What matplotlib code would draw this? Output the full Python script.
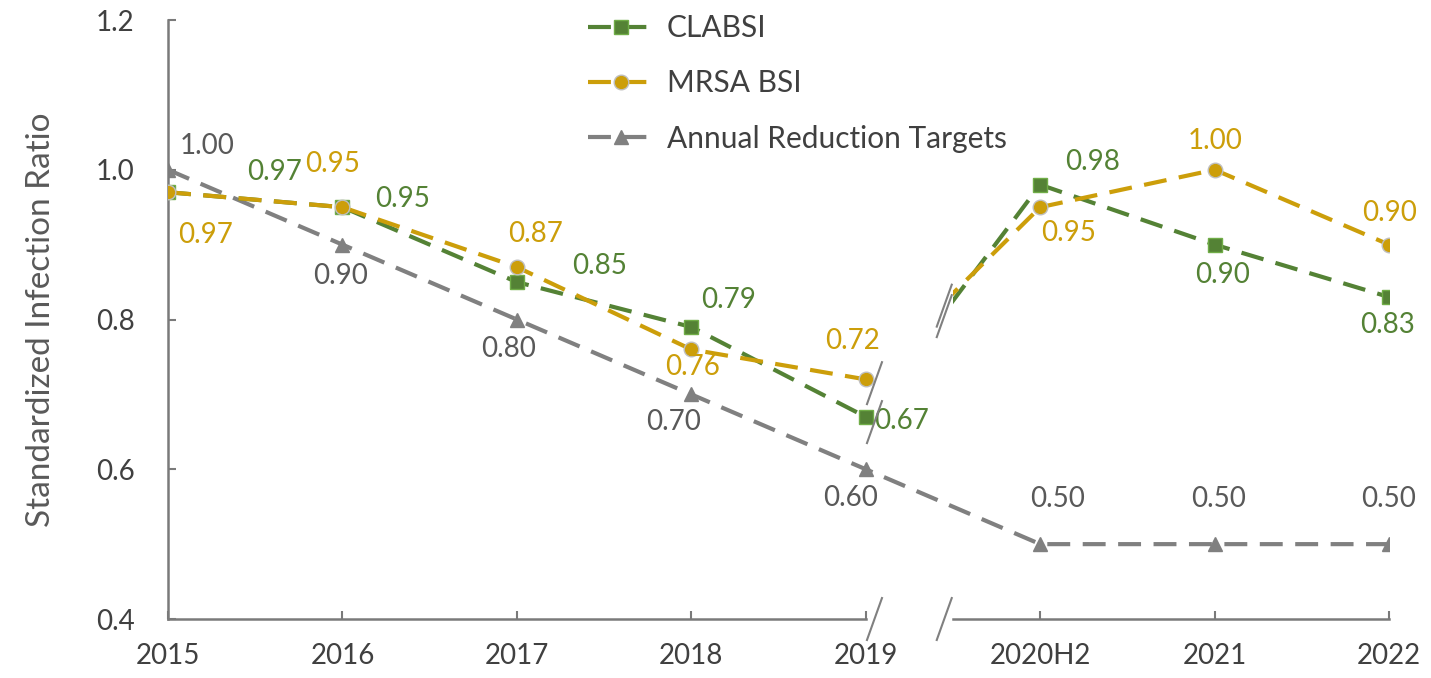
import numpy as np
import matplotlib
matplotlib.use("Agg")
import matplotlib.pyplot as plt
from matplotlib.patches import Rectangle

plt.rcParams["font.family"] = ["Lato", "DejaVu Sans"]

years = ["2015", "2016", "2017", "2018", "2019", "2020H2", "2021", "2022"]
clabsi = [0.97, 0.95, 0.85, 0.79, 0.67, 0.98, 0.90, 0.83]
mrsa = [0.97, 0.95, 0.87, 0.76, 0.72, 0.95, 1.00, 0.90]
targets = [1.00, 0.90, 0.80, 0.70, 0.60, 0.50, 0.50, 0.50]

GREEN = "#548235"
GOLD = "#CC9E0A"
GRAY = "#808080"
TEXT = "#404040"
AXIS = "#7a7a7a"
FS = 20

# label offsets in pixels (dx right, dy down)
clabsi_off = [(107, -20), (60, -8), (83, -16), (37, -27), (36, 4), (52, -23), (8, 30), (-2, 28)]
mrsa_off = [(38, 43), (-10, -43), (19, -33), (1, 18), (-13, -38), (28, 26), (0, -29), (0, -32)]
target_off = [(39, -24), (-2, 31), (-8, 29), (-18, 28), (-15, 29), (17, -45), (4, -45), (-1, -45)]

BREAK = 4  # index of last point before the break

fig = plt.figure(figsize=(14.31, 6.78), dpi=100)
ax = fig.add_axes([0.1174, 0.087, 0.8533, 0.8835])
x = np.arange(len(years))

dash = (5.5, 3.0)


def draw_series(vals, color, marker, ms, mec, label):
    pre = slice(0, BREAK + 1)
    post = slice(BREAK + 1, None)
    ax.plot(x[pre], vals[pre], color=color, lw=3, dashes=dash, marker=marker,
            ms=ms, mfc=color, mec=mec, mew=1, label=label, zorder=3)
    seg, = ax.plot(x[BREAK:BREAK + 2], vals[BREAK:BREAK + 2], color=color, lw=3,
                   dashes=dash, zorder=3)
    clip = Rectangle((BREAK + 0.5, 0), 10, 5, transform=ax.transData)
    seg.set_clip_path(clip)
    ax.plot(x[post], vals[post], color=color, lw=3, dashes=dash, marker=marker,
            ms=ms, mfc=color, mec=mec, mew=1, zorder=3)


ax.plot(x, targets, color=GRAY, lw=3, dashes=dash, marker="^", ms=10.5,
        mfc=GRAY, mec=GRAY, label="Annual Reduction Targets", zorder=2)
draw_series(clabsi, GREEN, "s", 10.5, "#70AD47", "CLABSI")
draw_series(mrsa, GOLD, "o", 10.5, "#BFBFBF", "MRSA BSI")

for vals, offs, col in [(clabsi, clabsi_off, GREEN), (mrsa, mrsa_off, GOLD),
                        (targets, target_off, "#595959")]:
    for xi, v, (dx, dy) in zip(x, vals, offs):
        ax.annotate(f"{v:.2f}", (xi, v), xytext=(dx, -dy), textcoords="offset pixels",
                    ha="center", va="center", color=col, fontsize=FS)

ax.set_xlim(0, 7)
ax.set_ylim(0.4, 1.2)
ax.set_yticks([0.4, 0.6, 0.8, 1.0, 1.2])
ax.set_yticklabels(["0.4", "0.6", "0.8", "1.0", "1.2"])
ax.set_xticks(x)
ax.set_xticklabels(years)
ax.tick_params(axis="both", direction="in", length=6, width=1.5, color=AXIS,
               labelcolor=TEXT, labelsize=FS)
ax.tick_params(axis="x", pad=17)
ax.tick_params(axis="y", pad=24)

for s in ["top", "right", "bottom"]:
    ax.spines[s].set_visible(False)
ax.spines["left"].set_color(AXIS)
ax.spines["left"].set_linewidth(1.8)

# broken x axis
xt = ax.get_xaxis_transform()
ax.plot([0, BREAK], [0, 0], transform=xt, color=AXIS, lw=1.8, clip_on=False, zorder=4)
ax.plot([BREAK + 0.5, 7], [0, 0], transform=xt, color=AXIS, lw=1.8, clip_on=False, zorder=4)


def slash(xc, yc, color=GRAY):
    hx, hy = 0.043, 0.028
    ax.plot([xc - hx, xc + hx], [yc - hy, yc + hy], color=color, lw=1.5,
            clip_on=False, zorder=5)


slash(BREAK + 0.05, 0.4)
slash(BREAK + 0.45, 0.4)
slash(BREAK + 0.05, mrsa[BREAK] - 0.005)
slash(BREAK + 0.05, clabsi[BREAK] - 0.007)
for vals in (clabsi, mrsa):
    slash(BREAK + 0.45, np.interp(BREAK + 0.45, x, vals) - 0.005)

ax.set_ylabel("Standardized Infection Ratio", fontsize=24, color="#595959", labelpad=29)

h, l = ax.get_legend_handles_labels()
order = [l.index("CLABSI"), l.index("MRSA BSI"), l.index("Annual Reduction Targets")]
leg = fig.legend([h[i] for i in order], [l[i] for i in order], loc="upper left",
                 bbox_to_anchor=(0.392, 1.019), frameon=False, fontsize=21.5,
                 handlelength=2.2, labelspacing=0.92, handletextpad=0.45)
for t in leg.get_texts():
    t.set_color(TEXT)

fig.savefig("out.png", dpi=100)
